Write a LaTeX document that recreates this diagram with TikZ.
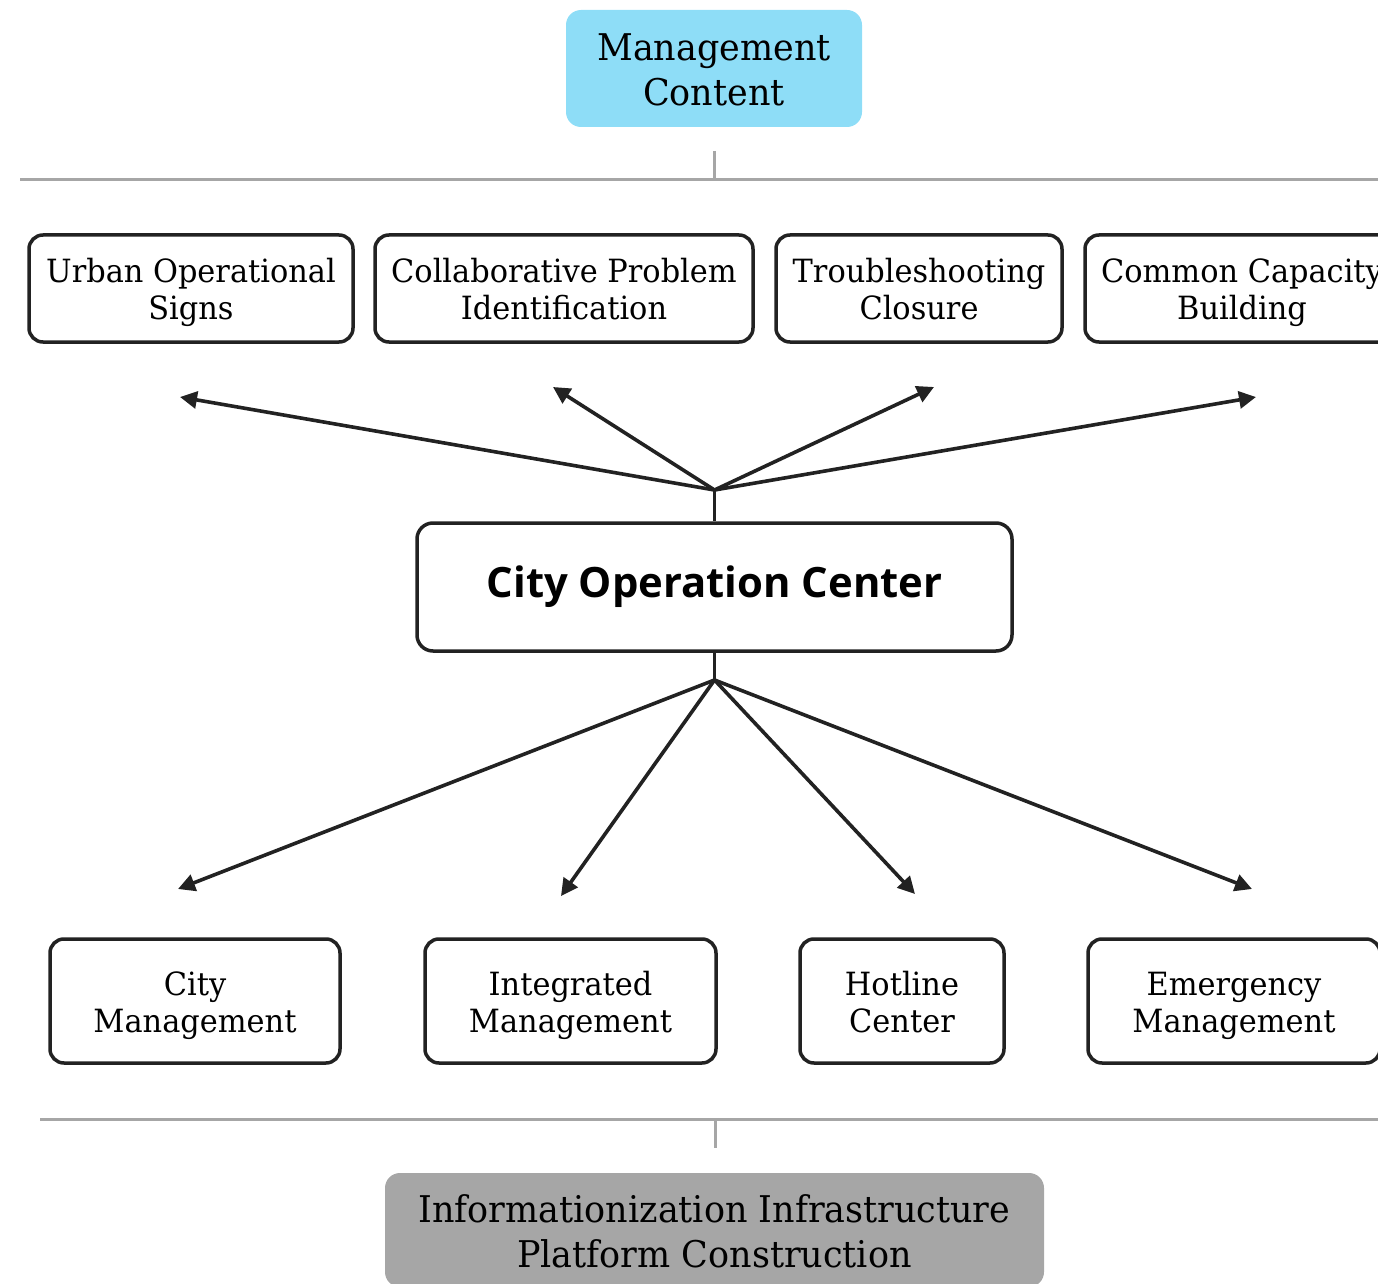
\documentclass[tikz,border=0pt]{standalone}
\usepackage{fontspec}
\setmainfont{DejaVu Serif}[FakeStretch=0.95]
\newfontfamily\cocfont{Open Sans}
\usetikzlibrary{arrows.meta}
\definecolor{mccyan}{HTML}{8EDDF7}
\definecolor{infogray}{HTML}{A6A6A6}
\definecolor{inkblack}{HTML}{222222}
\newcommand{\topstrut}{\rule{0pt}{\dimexpr0.7\baselineskip+5.5pt\relax}}
\tikzset{
  itembox/.style={
    draw=inkblack,
    line width=1.75pt,
    rounded corners=7pt,
    align=center,
    inner sep=0pt,
    font=\fontsize{16}{18.5}\selectfont
  },
  levelbox/.style={
    rounded corners=7.5pt,
    align=center,
    inner sep=0pt,
    font=\fontsize{18.4}{22.5}\selectfont
  },
  rule/.style={infogray, line width=1.5pt},
  link/.style={inkblack, line width=1.8pt, -{Triangle[length=8.5pt,width=8.5pt]}}
}

\begin{document}
\begin{tikzpicture}[x=0.5pt,y=-0.5pt]
		\useasboundingbox (0,0) rectangle (1378,1284);
		\clip (0,0) rectangle (1378,1284);
		\node[levelbox,fill=mccyan,minimum width=148pt,minimum height=58.5pt] (mc) at (714,68.5) {\topstrut Management\\Content\strut};
		\coordinate (mctick) at (714,151);
		\draw[rule] (20,180) -- (1378,180);
		\draw[rule] (mctick) -- (714,180);
		\foreach \n/\x/\w/\t in {u1/191/162/Urban Operational\\Signs,
				u2/564/189/Collaborative Problem\\Identification,
				u3/919/143/Troubleshooting\\Closure,
				u4/1242/157/Common Capacity\\Building} {
			\node[itembox,minimum width=\w pt,minimum height=53.5pt] (\n) at (\x,288.5) {\topstrut\t\strut};
		};
		\node[draw=inkblack,line width=1.75pt,rounded corners=8pt,minimum width=297.5pt,minimum height=64pt,font=\cocfont\bfseries\fontsize{20.9}{24}\selectfont] (coc) at (714.5,587) {City Operation Center};
		\coordinate (hubtop) at (coc.north |- 0,490);
		\coordinate (hubbot) at (coc.south |- 0,680);
		\draw[inkblack,line width=1.8pt] (coc.north) -- (hubtop) (coc.south) -- (hubbot);
		\foreach \n/\x/\y in {u1/180/397,u2/553/387,u3/934/387,u4/1256/397} {
			\coordinate (\n tip) at (\x,\y);
			\draw[link] (hubtop) -- (\n tip);
		};
		\foreach \n/\x/\w/\t in {b1/195/145/City\\Management,
				b2/570.5/145.5/Integrated\\Management,
				b3/902/102/Hotline\\Center,
				b4/1234/146/Emergency\\Management} {
			\node[itembox,minimum width=\w pt,minimum height=62pt] (\n) at (\x,1001) {\topstrut\t\strut};
		};
		\foreach \n/\x/\y in {b1/178/889,b2/561/896,b3/915/894,b4/1252/889} {
			\coordinate (\n tip) at (\x,\y);
			\draw[link] (hubbot) -- (\n tip);
		};
		\draw[rule] (40,1119) -- (1378,1119);
		\coordinate (infotick) at (715,1148);
		\draw[rule] (715,1119) -- (infotick);
		\node[levelbox,fill=infogray,minimum width=329.5pt,minimum height=57pt] (info) at (714.5,1230) {\topstrut Informationization Infrastructure\\Platform Construction\strut};
	\end{tikzpicture}
\end{document}
